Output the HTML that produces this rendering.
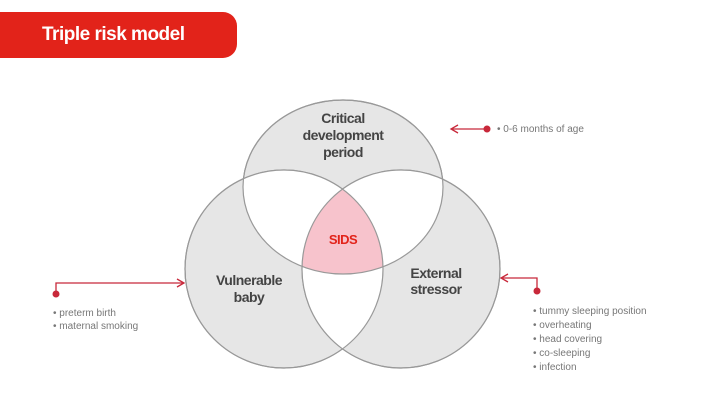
<!DOCTYPE html>
<html><head><style>
body{margin:0;width:720px;height:404px;background:#fff;overflow:hidden;position:relative;font-family:"Liberation Sans",sans-serif}
.t{position:absolute;left:0;top:12px;width:237px;height:46px;background:#e2231a;border-radius:0 14px 14px 0;color:#fff;font-weight:bold;font-size:19px;line-height:46px;padding-left:42px;box-sizing:border-box;letter-spacing:-0.5px}
</style></head><body>
<div class="t">Triple risk model</div>
<svg width="720" height="404" style="position:absolute;left:0;top:0">
<defs>
<clipPath id="a"><ellipse cx="284" cy="269" rx="99" ry="99"/></clipPath>
<clipPath id="b"><ellipse cx="401" cy="269" rx="99" ry="99"/></clipPath>
</defs>
<g stroke="#999" stroke-width="1.2" fill="#e6e6e6">
<ellipse cx="343" cy="187" rx="100" ry="87"/>
<ellipse cx="284" cy="269" rx="99" ry="99"/>
<ellipse cx="401" cy="269" rx="99" ry="99"/>
</g>
<g fill="#fff">
<ellipse cx="343" cy="187" rx="100" ry="87" clip-path="url(#a)"/>
<ellipse cx="343" cy="187" rx="100" ry="87" clip-path="url(#b)"/>
<ellipse cx="401" cy="269" rx="99" ry="99" clip-path="url(#a)"/>
</g>
<g clip-path="url(#a)"><ellipse cx="343" cy="187" rx="100" ry="87" fill="#f7c3cc" clip-path="url(#b)"/></g>
<g stroke="#999" stroke-width="1.2" fill="none">
<ellipse cx="343" cy="187" rx="100" ry="87"/>
<ellipse cx="284" cy="269" rx="99" ry="99"/>
<ellipse cx="401" cy="269" rx="99" ry="99"/>
</g>
<g font-weight="bold" font-size="14" fill="#444" text-anchor="middle" letter-spacing="-0.5">
<text x="343" y="123">Critical</text>
<text x="343" y="140">development</text>
<text x="343" y="157">period</text>
<text x="249" y="285">Vulnerable</text>
<text x="249" y="302">baby</text>
<text x="436" y="278">External</text>
<text x="436" y="294">stressor</text>
<text x="343" y="244" fill="#e2231a" font-size="13">SIDS</text>
</g>
<g stroke="#c8283a" stroke-width="1.3" fill="none">
<path d="M452 129H486"/><path d="M458 125L451 129L458 133"/>
<path d="M56 294V283H183"/><path d="M177 279L184 283L177 287"/>
<path d="M537 291V278H502"/><path d="M508 274L501 278L508 282"/>
</g>
<g fill="#c8283a"><circle cx="487" cy="129" r="3.5"/><circle cx="56" cy="294" r="3.5"/><circle cx="537" cy="291" r="3.5"/></g>
<g font-size="10" fill="#777">
<text x="497" y="132">• 0-6 months of age</text>
<text x="53" y="316">• preterm birth</text>
<text x="53" y="329">• maternal smoking</text>
<text x="533" y="314">• tummy sleeping position</text>
<text x="533" y="328">• overheating</text>
<text x="533" y="342">• head covering</text>
<text x="533" y="356">• co-sleeping</text>
<text x="533" y="370">• infection</text>
</g>
</svg>
</body></html>
